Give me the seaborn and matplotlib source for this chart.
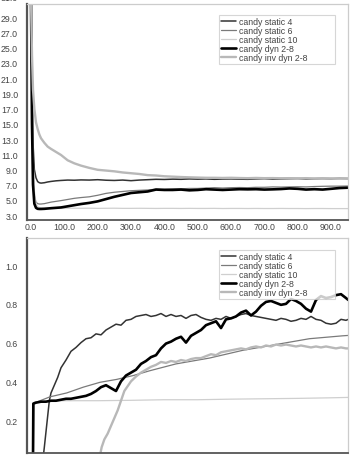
import numpy as np
import pandas as pd
import matplotlib
matplotlib.use("Agg")
import matplotlib.pyplot as plt
import seaborn as sns

# ---------------- data ----------------
labels = ["candy static 4", "candy static 6", "candy static 10",
          "candy dyn 2-8", "candy inv dyn 2-8"]

# top panel (shared x)
top_x = [0, 3, 6, 10, 15, 20, 25, 30, 40, 50,
         60, 75, 90, 110, 130, 150, 175, 200, 225, 250,
         275, 300, 325, 350, 375, 400, 425, 450, 475, 500,
         525, 550, 575, 600, 625, 650, 675, 700, 725, 750,
         775, 800, 825, 850, 875, 900, 925, 952]
top_s4 = [31.5, 20, 12.5, 9.0, 7.9, 7.4, 7.25, 7.2, 7.25, 7.35,
          7.42, 7.5, 7.55, 7.6, 7.58, 7.62, 7.6, 7.65, 7.58, 7.55,
          7.6, 7.52, 7.6, 7.65, 7.7, 7.68, 7.72, 7.7, 7.75, 7.72,
          7.75, 7.7, 7.73, 7.75, 7.72, 7.7, 7.75, 7.78, 7.72, 7.75,
          7.78, 7.8, 7.75, 7.78, 7.8, 7.78, 7.82, 7.8]
top_s6 = [31.5, 17, 8.5, 5.5, 4.7, 4.5, 4.45, 4.45, 4.5, 4.6,
          4.7, 4.8, 4.9, 5.05, 5.2, 5.3, 5.4, 5.6, 5.85, 6.0,
          6.1, 6.2, 6.25, 6.3, 6.4, 6.4, 6.45, 6.45, 6.5, 6.5,
          6.55, 6.6, 6.55, 6.6, 6.62, 6.6, 6.65, 6.65, 6.7, 6.68,
          6.7, 6.72, 6.7, 6.75, 6.78, 6.8, 6.8, 6.82]
top_s10 = [31.5, 19, 11, 6.2, 4.5, 4.1, 4.0, 3.95, 3.92, 3.9,
           3.9, 3.9, 3.89, 3.9, 3.9, 3.89, 3.9, 3.88, 3.89, 3.9,
           3.88, 3.88, 3.89, 3.88, 3.87, 3.88, 3.88, 3.87, 3.88, 3.87,
           3.87, 3.88, 3.86, 3.87, 3.87, 3.86, 3.87, 3.86, 3.86, 3.87,
           3.86, 3.86, 3.85, 3.86, 3.86, 3.85, 3.85, 3.85]
top_dyn = [31.5, 15, 7, 4.5, 3.95, 3.82, 3.8, 3.8, 3.82, 3.86,
           3.9, 3.95, 4.0, 4.15, 4.3, 4.45, 4.6, 4.8, 5.1, 5.4,
           5.65, 5.9, 6.0, 6.1, 6.35, 6.3, 6.3, 6.35, 6.25, 6.3,
           6.4, 6.35, 6.3, 6.35, 6.4, 6.38, 6.4, 6.35, 6.38, 6.42,
           6.5, 6.45, 6.35, 6.4, 6.35, 6.45, 6.55, 6.6]
top_inv = [31.5, 24, 19.5, 17, 15.2, 14.3, 13.6, 13.1, 12.5, 12.0,
           11.7, 11.3, 10.9, 10.2, 9.8, 9.5, 9.2, 8.95, 8.85, 8.75,
           8.6, 8.5, 8.4, 8.25, 8.2, 8.1, 8.05, 8.0, 7.96, 7.93,
           7.9, 7.9, 7.88, 7.9, 7.87, 7.85, 7.88, 7.85, 7.86, 7.84,
           7.85, 7.83, 7.85, 7.82, 7.84, 7.82, 7.8, 7.8]

# bottom panel (per series x)
b_s10_x = [0, 7, 8, 20, 100, 200, 300, 400, 500, 600, 700, 800, 900, 952]
b_s10_y = [0, 0, 0.29, 0.295, 0.30, 0.30, 0.302, 0.305, 0.305, 0.308, 0.31, 0.312, 0.315, 0.317]

b_s6_x = [0, 7, 8, 20, 57, 107, 157, 207, 257, 307, 357, 435, 535, 635, 735, 835, 935, 952]
b_s6_y = [0, 0, 0.29, 0.295, 0.32, 0.34, 0.37, 0.395, 0.41, 0.43, 0.455, 0.49, 0.52, 0.56, 0.59, 0.62, 0.635, 0.637]

b_s4_x = [0, 36, 40, 45, 50, 55, 60, 70, 80, 90,
          105, 120, 135, 150, 165, 180, 195, 210, 225, 240,
          255, 270, 285, 300, 315, 330, 345, 360, 375, 390,
          405, 420, 435, 450, 465, 480, 495, 510, 525, 540,
          555, 570, 585, 600, 615, 630, 645, 660, 675, 690,
          705, 720, 735, 750, 765, 780, 795, 810, 825, 840,
          855, 870, 885, 900, 915, 930, 945, 952]
b_s4_y = [0, 0, 0.06, 0.14, 0.22, 0.30, 0.34, 0.38, 0.42, 0.47,
          0.51, 0.555, 0.575, 0.60, 0.62, 0.625, 0.645, 0.64, 0.665, 0.68,
          0.695, 0.69, 0.715, 0.72, 0.735, 0.74, 0.745, 0.735, 0.74, 0.75,
          0.735, 0.745, 0.735, 0.74, 0.725, 0.74, 0.745, 0.73, 0.72, 0.715,
          0.725, 0.72, 0.735, 0.725, 0.735, 0.745, 0.75, 0.74, 0.735, 0.73,
          0.725, 0.72, 0.715, 0.725, 0.72, 0.71, 0.715, 0.725, 0.72, 0.735,
          0.72, 0.715, 0.70, 0.695, 0.70, 0.72, 0.715, 0.72]

b_dyn_x = [0, 6, 7, 15, 30, 45, 60, 75, 90,
           105, 120, 135, 150, 165, 180, 195, 210, 225, 240,
           255, 270, 285, 300, 315, 330, 345, 360, 375, 390,
           405, 420, 435, 450, 465, 480, 495, 510, 525, 540,
           555, 570, 585, 600, 615, 630, 645, 660, 675, 690,
           705, 720, 735, 750, 765, 780, 795, 810, 825, 840,
           855, 870, 885, 900, 915, 930, 945, 952]
b_dyn_y = [0, 0, 0.285, 0.29, 0.295, 0.295, 0.30, 0.30, 0.305,
           0.31, 0.31, 0.315, 0.32, 0.325, 0.335, 0.35, 0.37, 0.38, 0.365,
           0.35, 0.40, 0.43, 0.445, 0.46, 0.49, 0.505, 0.525, 0.535, 0.57,
           0.595, 0.605, 0.62, 0.63, 0.60, 0.635, 0.65, 0.665, 0.69, 0.70,
           0.71, 0.675, 0.72, 0.725, 0.735, 0.755, 0.765, 0.74, 0.76, 0.79,
           0.81, 0.815, 0.805, 0.795, 0.80, 0.825, 0.815, 0.80, 0.775, 0.76,
           0.82, 0.84, 0.83, 0.835, 0.845, 0.85, 0.83, 0.82]

b_inv_x = [0, 205, 212, 220, 230, 240, 250, 260, 270, 280, 290, 300,
           315, 330, 345, 360, 375, 390, 405, 420, 435, 450,
           465, 480, 495, 510, 525, 540, 555, 570, 585, 600,
           615, 630, 645, 660, 675, 690, 705, 720, 735, 750,
           765, 780, 795, 810, 825, 840, 855, 870, 885, 900,
           915, 930, 945, 952]
b_inv_y = [0, 0, 0.06, 0.10, 0.13, 0.17, 0.21, 0.25, 0.30, 0.35, 0.375, 0.40,
           0.425, 0.445, 0.46, 0.475, 0.485, 0.50, 0.495, 0.505, 0.50, 0.51,
           0.505, 0.515, 0.52, 0.52, 0.53, 0.54, 0.535, 0.55, 0.555, 0.56,
           0.565, 0.57, 0.565, 0.575, 0.58, 0.575, 0.585, 0.58, 0.59, 0.585,
           0.59, 0.585, 0.58, 0.585, 0.58, 0.575, 0.58, 0.575, 0.58, 0.575,
           0.57, 0.575, 0.57, 0.57]

top_yticks = [3.0, 5.0, 7.0, 9.0, 11.0, 13.0, 15.0, 17.0, 19.0, 21.0, 23.0, 25.0, 27.0, 29.0]
top_ytick_cut = 31.0           # partly cut off at the top edge
bottom_yticks = [0.2, 0.4, 0.6, 0.8, 1.0]
bottom_ytick_cut = 0.0         # partly cut off at the bottom edge
xticks = [0, 100, 200, 300, 400, 500, 600, 700, 800, 900]
xtick_cut = 1000               # partly cut off at the right edge

# ---------------- style ----------------
colors = ["#333333", "#7a7a7a", "#cfcfcf", "#000000", "#b8b8b8"]
widths = [1.1, 0.9, 0.9, 1.9, 1.7]
tick_color = "#444444"
fs = 6.3

sns.set_style("white")
plt.rcParams["font.family"] = ["Liberation Sans", "DejaVu Sans"]

fig = plt.figure(figsize=(3.52, 4.56), dpi=100)
ax1 = fig.add_axes([27 / 352, (456 - 221) / 456, 321 / 352, 216 / 456])
ax2 = fig.add_axes([27 / 352, (456 - 454) / 456, 321 / 352, 215 / 456])

top_series = [top_s4, top_s6, top_s10, top_dyn, top_inv]
for lab, ys, c, w in zip(labels, top_series, colors, widths):
    df = pd.DataFrame({"x": top_x, "y": ys})
    sns.lineplot(data=df, x="x", y="y", ax=ax1, color=c, linewidth=w, label=lab)

bottom_series = [(b_s4_x, b_s4_y), (b_s6_x, b_s6_y), (b_s10_x, b_s10_y),
                 (b_dyn_x, b_dyn_y), (b_inv_x, b_inv_y)]
for lab, (xs, ys), c, w in zip(labels, bottom_series, colors, widths):
    df = pd.DataFrame({"x": xs, "y": ys})
    sns.lineplot(data=df, x="x", y="y", ax=ax2, color=c, linewidth=w, label=lab)

ax1.set_yticks(top_yticks)
ax1.set_yticklabels([f"{v:.1f}" for v in top_yticks])
ax1.set_xticks(xticks)
ax1.set_xticklabels([f"{v:.1f}" for v in xticks])
ax2.set_yticks(bottom_yticks)
ax2.set_yticklabels([f"{v:.1f}" for v in bottom_yticks])
ax2.set_xticks(xticks)
ax2.set_xticklabels([])

ax1.set_xlim(-12, 951)
ax2.set_xlim(-12, 951)
ax1.set_ylim(2.35, 30.75)
ax2.set_ylim(0.03, 1.14)

for ax, top_anchor, legh in ((ax1, 0.949, 46 / 216), (ax2, 0.944, 45 / 215)):
    ax.set_xlabel("")
    ax.set_ylabel("")
    ax.tick_params(axis="both", length=0, labelsize=fs, labelcolor=tick_color)
    ax.tick_params(axis="y", pad=6.5)
    ax.tick_params(axis="x", pad=1.5)
    ax.spines["left"].set_color("#555555")
    ax.spines["left"].set_linewidth(1.6)
    ax.spines["bottom"].set_color("#555555")
    ax.spines["bottom"].set_linewidth(1.3)
    ax.spines["top"].set_color("#cccccc")
    ax.spines["top"].set_linewidth(0.9)
    ax.spines["right"].set_color("#cccccc")
    ax.spines["right"].set_linewidth(0.9)
    leg = ax.legend(loc="upper left",
                    bbox_to_anchor=((219 - 27) / 321, top_anchor - legh, 116 / 321, legh),
                    mode="expand", borderaxespad=0, fontsize=fs, frameon=True,
                    fancybox=False, handlelength=1.75, handletextpad=0.25,
                    labelspacing=0.0, borderpad=0.25)
    leg.get_frame().set_edgecolor("#cccccc")
    leg.get_frame().set_linewidth(0.8)
    for t in leg.get_texts():
        t.set_color(tick_color)

# tick labels that sit at the figure edges and are partly cut off
ax1.text(-0.028, top_ytick_cut + 0.6, f"{top_ytick_cut:.1f}", transform=ax1.get_yaxis_transform(),
         ha="right", va="center", fontsize=fs, color=tick_color, clip_on=False)
ax1.text(xtick_cut, -0.007, f"{xtick_cut:.1f}", transform=ax1.get_xaxis_transform(),
         ha="center", va="top", fontsize=fs, color=tick_color, clip_on=False)
ax2.text(-0.028, bottom_ytick_cut, f"{bottom_ytick_cut:.1f}", transform=ax2.get_yaxis_transform(),
         ha="right", va="center", fontsize=fs, color=tick_color, clip_on=False)

fig.savefig("out.png", dpi=100)
